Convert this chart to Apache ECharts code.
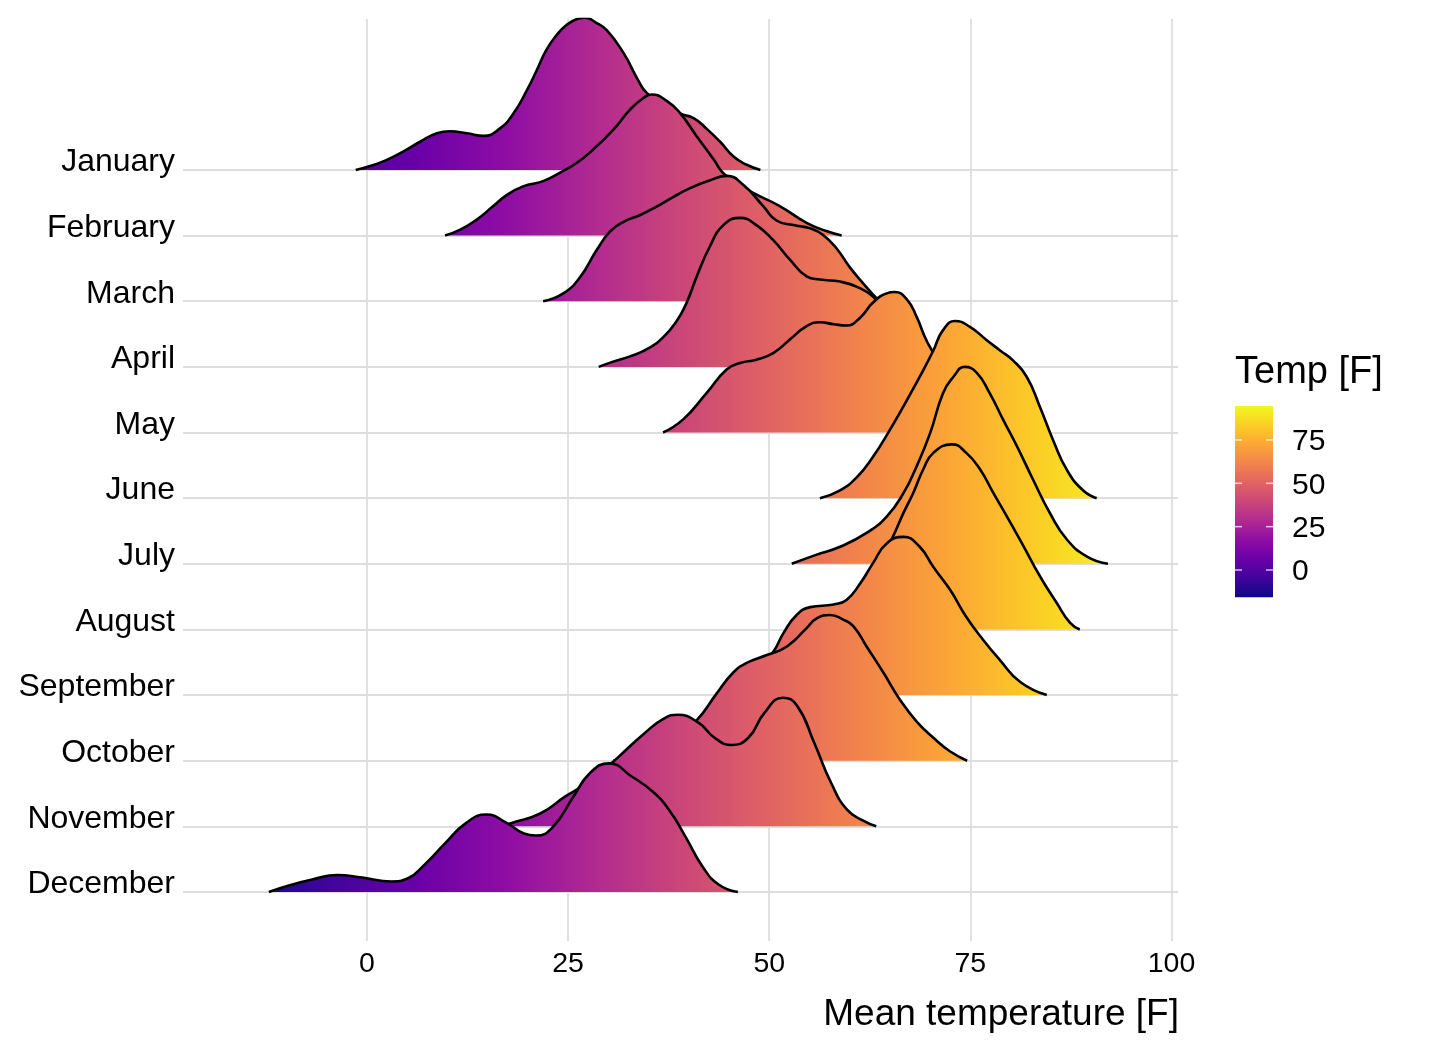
<!DOCTYPE html>
<html>
<head>
<meta charset="utf-8">
<script src="https://cdn.jsdelivr.net/npm/echarts@6.0.0/dist/echarts.min.js"></script>
<style>
body{margin:0;background:#fff;}
#main{width:1440px;height:1056px;}
</style>
</head>
<body>
<div id="main"></div>
<script>
// month names, top row first
var months=['January','February','March','April','May','June','July','August','September','October','November','December'];

// ridge outlines: temperature [F] and height (in rows)
var janX=[-1.4,0.4,2.4,4.5,6.6,8.7,10.3,12.4,14.5,16.5,18.2,19.9,21.1,22.3,23.6,24.8,26.1,27.1,28.4,29.8,31.9,33.7,34.8,36.8,38.9,40.6,42.2,43.9,45.6,47.2,48.9];
var janH=[0,0.06,0.15,0.28,0.43,0.56,0.59,0.56,0.52,0.63,0.86,1.22,1.52,1.83,2.06,2.21,2.30,2.32,2.25,2.13,1.78,1.37,1.17,1.01,0.86,0.79,0.63,0.43,0.20,0.08,0];
var febX=[9.7,11.6,13.6,15.7,17.4,19.4,21.9,24.0,26.1,28.1,30.6,32.7,34.4,35.4,37.3,38.9,41.0,43.1,44.3,46.1,48.0,51.3,54.7,57.1,59.0];
var febH=[0,0.09,0.24,0.45,0.62,0.75,0.83,0.96,1.11,1.31,1.61,1.92,2.10,2.15,2.05,1.87,1.51,1.16,0.95,0.79,0.65,0.45,0.19,0.07,0];
var marX=[21.9,24.4,26.5,28.55,30.2,31.9,33.9,36.0,38.1,40.1,42.6,44.7,46.8,49.3,50.9,53.0,55.1,56.7,58.4,60.0,61.7,63.4,64.0];
var marH=[0,0.12,0.37,0.78,1.06,1.21,1.31,1.44,1.59,1.72,1.84,1.91,1.77,1.44,1.23,1.16,1.11,1.01,0.80,0.52,0.27,0.04,0];
var aprX=[28.8,30.6,32.7,34.8,36.8,38.5,39.7,41.0,42.6,44.3,46.4,48.4,50.5,52.6,54.65,56.3,58.8,60.9,62.9,65.0,67.5,70.0,72.0];
var aprH=[0,0.08,0.16,0.27,0.45,0.70,0.97,1.38,1.83,2.16,2.27,2.16,1.93,1.63,1.38,1.33,1.30,1.22,1.07,0.75,0.40,0.12,0];
var mayX=[36.8,39.3,42.2,44.7,46.4,48.4,50.5,52.6,54.65,56.3,58.0,59.6,61.3,62.9,64.6,65.6,67.1,68.3,69.6,72.0,75.0,78.0,81.0];
var mayH=[0,0.20,0.60,0.96,1.06,1.11,1.21,1.42,1.62,1.68,1.65,1.63,1.75,1.98,2.12,2.14,2.03,1.77,1.39,0.90,0.45,0.15,0];
var junX=[56.3,58.8,60.9,62.9,65.0,67.1,69.15,70.4,71.6,73.1,74.95,77.0,78.7,80.3,82.0,83.65,85.3,87.0,89.0,90.7];
var junH=[0,0.12,0.32,0.63,1.04,1.49,1.95,2.25,2.56,2.70,2.61,2.41,2.25,2.10,1.85,1.39,0.88,0.43,0.12,0];
var julX=[52.8,55.9,58.8,62.1,64.6,66.7,68.3,70.0,71.6,72.9,74.3,75.8,77.4,79.1,80.8,82.8,84.9,87.0,89.5,92.1];
var julH=[0,0.14,0.26,0.47,0.72,1.08,1.48,1.99,2.60,2.85,3.0,2.91,2.60,2.19,1.79,1.28,0.77,0.37,0.11,0];
var augX=[55.0,57.5,60.0,62.0,63.4,64.2,65.4,66.7,67.9,69.15,70.4,72.7,74.5,76.2,77.85,79.5,81.6,83.65,85.7,87.4,88.6];
var augH=[0,0.15,0.42,0.72,0.96,1.12,1.42,1.78,2.08,2.44,2.69,2.82,2.69,2.44,2.08,1.73,1.27,0.81,0.41,0.10,0];
var sepX=[44.5,46.2,48.2,50.5,51.75,53.4,55.1,58.0,59.6,61.3,62.9,64.6,66.7,68.7,70.4,72.5,74.5,76.6,78.7,81.2,84.5];
var sepH=[0,0.12,0.33,0.66,0.94,1.22,1.34,1.38,1.45,1.70,2.01,2.31,2.41,2.26,1.95,1.60,1.19,0.84,0.53,0.20,0];
var octX=[30.6,33.0,36.0,38.5,41.0,43.5,45.5,47.2,49.7,52.2,54.65,55.9,57.55,59.2,60.45,62.1,64.2,66.25,68.3,70.4,72.5,74.6];
var octH=[0,0.07,0.20,0.37,0.62,1.03,1.34,1.49,1.61,1.74,2.02,2.17,2.22,2.15,2.05,1.74,1.34,0.93,0.60,0.35,0.14,0];
var novX=[16.5,18.0,21.6,24.7,26.7,29.1,31.1,34.5,37.0,38.6,41.2,43.2,45.3,47.4,49.4,51.7,53.5,55.6,57.7,59.7,61.8,63.3];
var novH=[0,0.05,0.20,0.46,0.61,0.83,1.04,1.42,1.65,1.70,1.58,1.35,1.24,1.35,1.73,1.96,1.83,1.27,0.66,0.25,0.08,0];
var decX=[-12.2,-9.4,-6.8,-3.7,-0.6,3.0,5.1,7.1,9.7,12.3,14.85,17.4,19.5,21.0,23.1,25.65,27.7,30.1,32.9,35.5,37.55,39.6,41.7,43.75,46.1];
var decH=[0,0.11,0.19,0.26,0.22,0.16,0.21,0.41,0.74,1.05,1.18,1.05,0.89,0.86,0.99,1.45,1.81,1.96,1.76,1.53,1.25,0.84,0.39,0.11,0];

var ridgeX=[janX,febX,marX,aprX,mayX,junX,julX,augX,sepX,octX,novX,decX];
var ridgeH=[janH,febH,marH,aprH,mayH,junH,julH,augH,sepH,octH,novH,decH];

// axis ticks
var xTicks=[0,25,50,75,100];
var yTicks=[0,1,2,3,4,5,6,7,8,9,10,11];

// colour scale (plasma) and its legend
var plasma=['#0D0887','#41049D','#6A00A8','#8F0DA4','#B12A90','#CC4778','#E16462','#F2844B','#FCA636','#FCCE25','#F0F921'];
var colorMin=-15.75, colorMax=94.6;
var legendTicks=[0,25,50,75];

var font='"Liberation Sans", Arial, Helvetica, sans-serif';
var myChart=echarts.init(document.getElementById('main'),null,{renderer:'canvas'});

var series=[];
for(var i=0;i<months.length;i++){
	var base=11-i;
	var pts=[];
	for(var k=0;k<ridgeX[i].length;k++){
		pts.push([ridgeX[i][k],base+ridgeH[i][k]]);
	}
	series.push({
		name:months[i],
		type:'line',
		data:pts,
		smooth:0.5,
		symbol:'none',
		showSymbol:false,
		z:3+i,   // lower rows sit on top
		lineStyle:{color:'#000',width:2.6,join:'round'},
		areaStyle:{opacity:1,origin:base},
		silent:true,
		animation:false
	});
}

// legend bar
var barX=1235,barY=406,barW=38,barH=191.3;
var stops=[];
for(var s=0;s<plasma.length;s++){
	stops.push({offset:s/(plasma.length-1),color:plasma[s]});
}
var graphics=[{
	type:'rect',
	shape:{x:barX,y:barY,width:barW,height:barH},
	style:{fill:new echarts.graphic.LinearGradient(0,1,0,0,stops)}
},{
	type:'text',
	style:{text:'Temp [F]',x:1235,y:373,font:'38px '+font,fill:'#000',verticalAlign:'middle',align:'left'}
},{
	type:'text',
	style:{text:'Mean temperature [F]',x:1179,y:1015,font:'37px '+font,fill:'#000',verticalAlign:'middle',align:'right'}
}];
for(var t=0;t<legendTicks.length;t++){
	var ty=barY+barH*(colorMax-legendTicks[t])/(colorMax-colorMin);
	graphics.push({type:'line',shape:{x1:barX,y1:ty,x2:barX+7,y2:ty},style:{stroke:'rgba(255,255,255,0.75)',lineWidth:1.5}});
	graphics.push({type:'line',shape:{x1:barX+barW-7,y1:ty,x2:barX+barW,y2:ty},style:{stroke:'rgba(255,255,255,0.75)',lineWidth:1.5}});
	graphics.push({type:'text',style:{text:String(legendTicks[t]),x:1292,y:ty+2,font:'30px '+font,fill:'#000',verticalAlign:'middle',align:'left'}});
}

var option={
	backgroundColor:'#fff',
	animation:false,
	grid:{left:183,right:262,top:19,bottom:115,containLabel:false},
	xAxis:{
		type:'value',
		min:-22.87,
		max:100.81,
		axisLine:{show:false},
		axisTick:{show:false,customValues:xTicks},
		axisLabel:{customValues:xTicks,color:'#000',fontSize:28.5,fontFamily:font,margin:9},
		splitLine:{show:true,lineStyle:{color:'#dedede',width:1.8}}
	},
	yAxis:{
		type:'value',
		min:-0.7465,
		max:13.30,
		axisLine:{show:false},
		axisTick:{show:false,customValues:yTicks},
		axisLabel:{
			customValues:yTicks,
			color:'#000',
			fontSize:32,
			fontFamily:font,
			margin:8,
			verticalAlign:'bottom',
			lineHeight:15,
			formatter:function(v){ return months[11-Math.round(v)]; }
		},
		splitLine:{show:true,lineStyle:{color:'#dedede',width:1.8}}
	},
	visualMap:{
		type:'continuous',
		show:false,
		dimension:0,
		min:colorMin,
		max:colorMax,
		inRange:{color:plasma}
	},
	graphic:graphics,
	series:series
};
myChart.setOption(option);
</script>
</body>
</html>
